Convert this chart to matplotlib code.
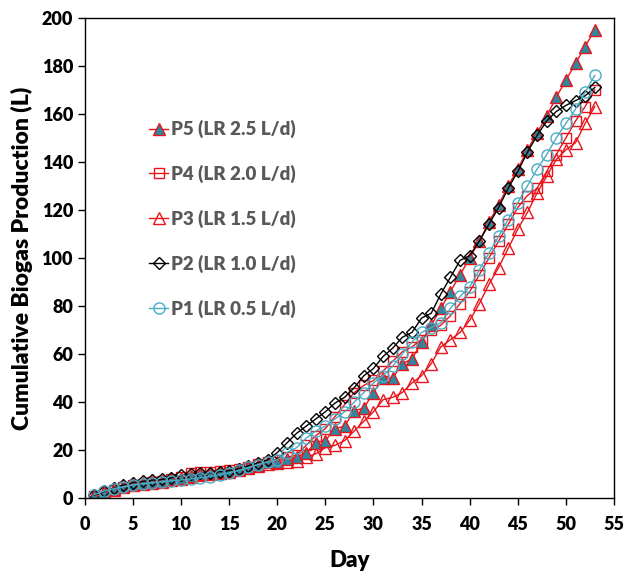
import matplotlib

matplotlib.use("Agg")
import matplotlib.pyplot as plt

plt.rcParams["font.family"] = ["Lato", "DejaVu Sans"]

days = list(range(1, 54))

# cumulative biogas (L)
p5 = [1.2, 2.5, 3.8, 5.0, 5.8, 6.3, 6.8, 7.2, 7.8, 8.5, 9.3, 10.0, 10.4, 10.8,
      11.3, 12.0, 13.0, 14.0, 15.0, 15.0, 16.5, 17.0, 19.0, 23.0, 24.0, 29.0,
      30.0, 36.5, 37.5, 44.0, 50.0, 50.0, 56.0, 58.0, 65.0, 72.0, 79.0, 86.0,
      93.0, 100.0, 107.0, 115.0, 122.0, 130.0, 137.0, 145.0, 152.0, 159.0,
      167.0, 174.0, 181.0, 188.0, 195.0]
p4 = [1.0, 2.3, 3.5, 4.6, 5.5, 6.0, 6.6, 7.2, 8.0, 9.0, 10.5, 10.8, 11.0, 11.2,
      11.6, 12.2, 13.2, 14.3, 15.2, 16.0, 17.0, 18.0, 22.0, 26.0, 29.0, 34.0,
      39.0, 44.0, 47.0, 49.0, 53.0, 57.0, 61.0, 63.0, 66.0, 70.0, 72.0, 76.0,
      81.0, 86.0, 93.0, 100.0, 107.0, 114.0, 121.0, 126.0, 129.0, 136.0,
      143.0, 150.0, 157.0, 163.0, 170.0]
p3 = [1.0, 2.2, 3.4, 4.5, 5.3, 5.9, 6.4, 6.9, 7.5, 8.2, 9.0, 9.6, 10.0, 10.5,
      11.0, 11.7, 12.6, 13.5, 14.2, 14.5, 15.0, 15.5, 17.0, 18.5, 21.0, 22.0,
      24.0, 28.0, 32.0, 36.0, 41.0, 42.0, 44.0, 48.0, 51.0, 56.0, 63.0, 66.0,
      69.0, 74.0, 81.0, 89.0, 96.0, 104.0, 112.0, 119.0, 127.0, 134.0, 141.0,
      145.0, 148.0, 156.0, 163.0]
p2 = [1.3, 2.8, 4.2, 5.5, 6.5, 7.0, 7.5, 7.8, 8.5, 9.5, 10.0, 10.3, 10.6, 11.0,
      11.5, 12.3, 13.5, 14.8, 16.0, 19.0, 23.0, 27.0, 30.0, 33.0, 36.0, 39.6,
      42.0, 46.0, 51.0, 54.0, 59.0, 62.5, 67.0, 69.0, 75.0, 77.0, 85.0, 92.0,
      99.0, 101.0, 107.0, 114.0, 121.0, 129.0, 136.0, 144.0, 151.0, 157.0,
      161.0, 163.5, 165.5, 167.5, 171.0]
p1 = [1.5, 3.0, 4.0, 4.8, 5.5, 6.0, 6.4, 6.8, 7.2, 7.6, 8.0, 8.5, 9.0, 9.8,
      10.6, 11.6, 12.8, 14.0, 15.0, 16.0, 19.0, 21.0, 25.0, 28.0, 30.0, 33.0,
      36.0, 40.0, 44.0, 48.0, 51.0, 55.0, 60.0, 65.0, 69.0, 71.0, 73.0, 79.0,
      84.0, 88.0, 95.0, 102.0, 109.0, 116.0, 123.0, 130.0, 137.0, 143.0,
      150.0, 156.0, 162.0, 169.0, 176.0]

labels = ["P5 (LR 2.5 L/d)", "P4 (LR 2.0 L/d)", "P3 (LR 1.5 L/d)",
          "P2 (LR 1.0 L/d)", "P1 (LR 0.5 L/d)"]

red = "#E8141B"
teal = "#31859C"
cyan = "#4BACC6"

fig = plt.figure(figsize=(6.24, 5.72), dpi=100)
ax = fig.add_axes([0.136, 0.129, 0.848, 0.840])

h3, = ax.plot(days, p3, color=red, lw=1, marker="^", ms=9, mfc="none",
              mec=red, mew=1, label=labels[2])
h4, = ax.plot(days, p4, color=red, lw=1, marker="s", ms=7.5, mfc="none",
              mec=red, mew=1, label=labels[1])
h5, = ax.plot(days, p5, color=red, lw=1, marker="^", ms=9, mfc=teal,
              mec=red, mew=1, label=labels[0])
h2, = ax.plot(days, p2, color="black", lw=1, marker="D", ms=6.5, mfc="none",
              mec="black", mew=1, label=labels[3])
h1, = ax.plot(days, p1, color=cyan, lw=1, marker="o", ms=8, mfc="none",
              mec=cyan, mew=1, label=labels[4])

ax.set_xlim(0, 55)
ax.set_ylim(0, 200)
ax.set_xticks(range(0, 56, 5))
ax.set_yticks(range(0, 201, 20))
ax.tick_params(direction="out", length=5, width=1, labelsize=13)
ax.tick_params(axis="x", pad=8)
for t in ax.get_xticklabels() + ax.get_yticklabels():
    t.set_fontweight("heavy")
for s in ax.spines.values():
    s.set_linewidth(1)

ax.set_xlabel("Day", fontsize=16, fontweight="heavy", labelpad=12)
ax.set_ylabel("Cumulative Biogas Production (L)", fontsize=16.5,
              fontweight="heavy", labelpad=6)

leg = ax.legend(handles=[h5, h4, h3, h2, h1], loc="upper left",
                bbox_to_anchor=(0.09, 0.822), frameon=False, handlelength=1.0,
                handletextpad=0.15, labelspacing=1.42,
                prop={"weight": "heavy", "size": 13.5})
for t in leg.get_texts():
    t.set_color("#595959")

fig.savefig("out.png", dpi=100)
